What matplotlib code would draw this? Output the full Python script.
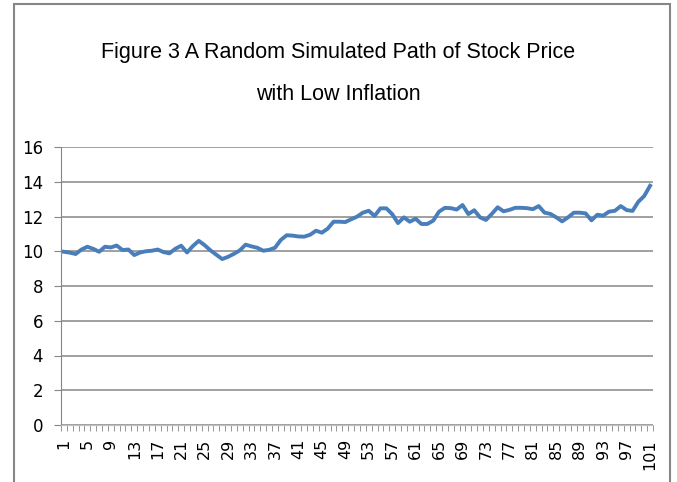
"""
Random simulated stock price path with low inflation (Figure 3)
"""
import matplotlib
matplotlib.use('Agg')
import matplotlib.pyplot as plt
from matplotlib.patches import Rectangle
import numpy as np

periods = list(range(1, 102))
price = [9.97, 9.92, 9.84, 10.1, 10.26, 10.14, 9.97, 10.26, 10.22, 10.33,
         10.07, 10.1, 9.78, 9.93, 10.0, 10.03, 10.1, 9.95, 9.88, 10.14,
         10.32, 9.93, 10.3, 10.6, 10.35, 10.05, 9.8, 9.55, 9.68, 9.85,
         10.05, 10.38, 10.28, 10.2, 10.03, 10.08, 10.2, 10.65, 10.92, 10.9,
         10.85, 10.84, 10.95, 11.18, 11.07, 11.3, 11.7, 11.7, 11.68, 11.84,
         11.99, 12.22, 12.33, 12.03, 12.47, 12.47, 12.14, 11.62, 11.95, 11.7,
         11.87, 11.57, 11.57, 11.76, 12.28, 12.5, 12.48, 12.4, 12.66, 12.14,
         12.36, 11.95, 11.8, 12.15, 12.53, 12.3, 12.38, 12.5, 12.5, 12.48,
         12.42, 12.6, 12.22, 12.15, 11.95, 11.72, 11.95, 12.22, 12.22, 12.18,
         11.78, 12.1, 12.05, 12.28, 12.33, 12.6, 12.37, 12.32, 12.85, 13.18,
         13.77]
x_labels = [str(p) for p in periods if (p - 1) % 4 == 0]
y_ticks = [0, 2, 4, 6, 8, 10, 12, 14, 16]

GRAY = '#868686'

fig = plt.figure(figsize=(6.77, 4.82), dpi=100)
ax = fig.add_axes([61 / 677, 1 - 425 / 482, 592 / 677, 278 / 482])

# chart frame, bottom edge runs off the picture
fig.patches.append(Rectangle((14 / 677, -0.05), 656 / 677, 1.05 - 4 / 482,
                             transform=fig.transFigure, fill=False,
                             edgecolor=GRAY, linewidth=1.5, clip_on=False))

ax.plot(periods, price, color='#4A7EBB', linewidth=2.8, solid_joinstyle='round')

ax.set_xlim(0.5, 101.5)
ax.set_ylim(0, 16)
ax.set_yticks(y_ticks)
ax.yaxis.grid(True, color=GRAY, linewidth=1.1)
ax.set_axisbelow(True)

ax.set_xticks([p for p in periods if (p - 1) % 4 == 0])
ax.set_xticklabels(x_labels, rotation=90)
ax.set_xticks(np.arange(0.5, 102, 1), minor=True)
ax.tick_params(axis='x', which='major', length=0, pad=10, labelsize=11.5)
ax.tick_params(axis='x', which='minor', length=4, color=GRAY, direction='out')
ax.tick_params(axis='y', length=5, color=GRAY, pad=8, labelsize=12)

for side in ['top', 'right']:
    ax.spines[side].set_visible(False)
ax.spines['left'].set_color(GRAY)
ax.spines['bottom'].set_color('#BFBFBF')

title_font = ['Liberation Sans Narrow', 'Liberation Sans', 'DejaVu Sans']
fig.text(0.5, 1 - 52 / 482, 'Figure 3 A Random Simulated Path of Stock Price',
         ha='center', va='center', fontsize=15.5, family=title_font)
fig.text(0.5, 1 - 94 / 482, 'with Low Inflation',
         ha='center', va='center', fontsize=15.5, family=title_font)

fig.savefig('out.png', dpi=100)
